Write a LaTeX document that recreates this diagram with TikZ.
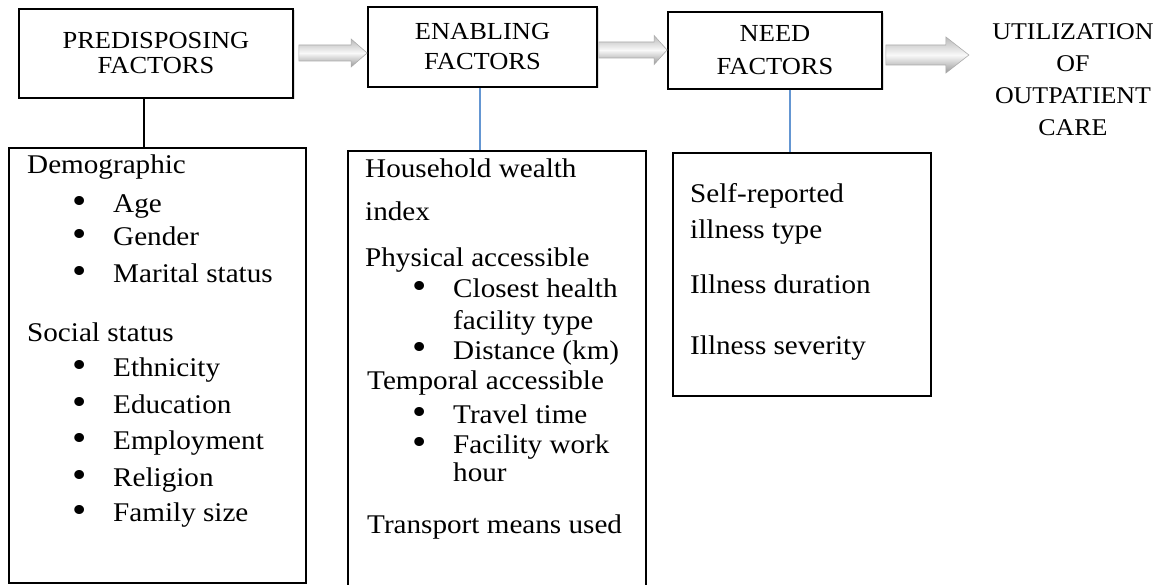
\documentclass[tikz,border=0pt]{standalone}
\usepackage{fontspec}
\setmainfont{Liberation Serif}[FakeStretch=1.08]
\usetikzlibrary{calc,shadows}
\definecolor{connblue}{RGB}{100,150,210}
\tikzset{
  titlebox/.style={draw=black, line width=1.8pt, fill=white, align=center, inner sep=0pt,
    drop shadow={shadow xshift=1.5pt, shadow yshift=-1.5pt, opacity=0.25}},
  listbox/.style={draw=black, line width=1.4pt, inner sep=0pt},
  txt/.style={anchor=west, inner sep=0pt, text height=19pt, text depth=7pt,
    font=\fontsize{27}{30}\selectfont},
  blockarrow/.style={draw=gray!65, line width=0.6pt, top color=gray!55, bottom color=gray!80, middle color=gray!5},
  conn/.style={line width=1.4pt, draw=black},
  bconn/.style={line width=1.2pt, draw=connblue}
}
\newcommand{\blkarrow}[5]{% start, tip, head length, shaft half, head half
  \path[blockarrow] ($(#1)+(0,-#4)$) -- ($(#2)+(-#3,-#4)$) -- ($(#2)+(-#3,-#5)$) -- (#2)
    -- ($(#2)+(-#3,#5)$) -- ($(#2)+(-#3,#4)$) -- ($(#1)+(0,#4)$) -- cycle;}
\newcommand{\itm}[1]{\makebox[41pt][l]{\raisebox{-1pt}{\scalebox{1.4}{\textbullet}}}#1}
\begin{document}
\begin{tikzpicture}[x=1pt,y=-1pt]
\useasboundingbox (0,0) rectangle (1172,585);
\clip (0,0) rectangle (1172,585);
\fill[white] (0,0) rectangle (1172,585);

% title boxes
\node[titlebox, minimum width=274pt, minimum height=89pt,
  font=\fontsize{24.5}{25}\selectfont] (b1) at (156,53.5) {PREDISPOSING\\FACTORS};
\node[titlebox, minimum width=229pt, minimum height=80pt,
  font=\fontsize{24.5}{30}\selectfont] (b2) at (482.5,47) {ENABLING\\FACTORS};
\node[titlebox, minimum width=214pt, minimum height=77pt,
  font=\fontsize{24.5}{33}\selectfont] (b3) at (775,50.5) {NEED\\FACTORS};
\node[align=center, inner sep=0pt, font=\fontsize{24}{32}\selectfont] (u) at (1073,80)
  {UTILIZATION\\OF\\OUTPATIENT\\CARE};

% list boxes
\node[listbox, minimum width=297pt, minimum height=435pt] (b4) at (157.5,365.5) {};
\node[listbox, line width=1.1pt, minimum width=298pt, minimum height=449pt] (b5) at (497,375.5) {};
\node[listbox, minimum width=258pt, minimum height=243pt] (b6) at (802,274.5) {};

% block arrows
\coordinate (a1s) at ($(b1.east)+(5,-0.5)$);
\coordinate (a1t) at (b2.west |- a1s);
\blkarrow{a1s}{a1t}{16}{8}{14}
\coordinate (a2s) at ($(b2.east)+(1,3)$);
\coordinate (a2t) at (b3.west |- a2s);
\blkarrow{a2s}{a2t}{13}{8}{14.5}
\coordinate (a3s) at ($(b3.east)+(3,4.5)$);
\coordinate (a3t) at ($(a3s)+(83,0)$);
\blkarrow{a3s}{a3t}{23}{10}{18}

% connectors
\draw[conn] ([xshift=-12pt]b1.south) -- ([xshift=-12pt]b1.south |- b4.north);
\draw[bconn] ([xshift=-2.5pt]b2.south) -- ([xshift=-2.5pt]b2.south |- b5.north);
\draw[bconn] ([xshift=15pt]b3.south) -- ([xshift=15pt]b3.south |- b6.north);

% box 4 text
\node[txt] (t1) at (27,168) {Demographic};
\node[txt] (t2) at (72,207) {\itm{Age}};
\node[txt] (t3) at (72,240) {\itm{Gender}};
\node[txt] (t4) at (72,277) {\itm{Marital status}};
\node[txt] (t5) at (27,335) {Social status};
\node[txt] (t6) at (72,370) {\itm{Ethnicity}};
\node[txt] (t7) at (72,407) {\itm{Education}};
\node[txt] (t8) at (72,443) {\itm{Employment}};
\node[txt] (t9) at (72,480) {\itm{Religion}};
\node[txt] (t10) at (72,515) {\itm{Family size}};

% box 5 text
\node[txt] (e1) at (365,172) {Household wealth};
\node[txt] (e2) at (365,215) {index};
\node[txt] (e3) at (365,260) {Physical accessible};
\node[txt] (e4) at (412,292) {\itm{Closest health}};
\node[txt] (e5) at (453,323) {facility type};
\node[txt] (e6) at (412,353) {\itm{Distance (km)}};
\node[txt] (e7) at (367,383) {Temporal accessible};
\node[txt] (e8) at (412,417) {\itm{Travel time}};
\node[txt] (e9) at (412,447) {\itm{Facility work}};
\node[txt] (e10) at (453,475) {hour};
\node[txt] (e11) at (367,527) {Transport means used};

% box 6 text
\node[txt] (n1) at (690,197) {Self-reported};
\node[txt] (n2) at (690,233) {illness type};
\node[txt] (n3) at (690,287) {Illness duration};
\node[txt] (n4) at (690,348) {Illness severity};
\end{tikzpicture}
\end{document}
